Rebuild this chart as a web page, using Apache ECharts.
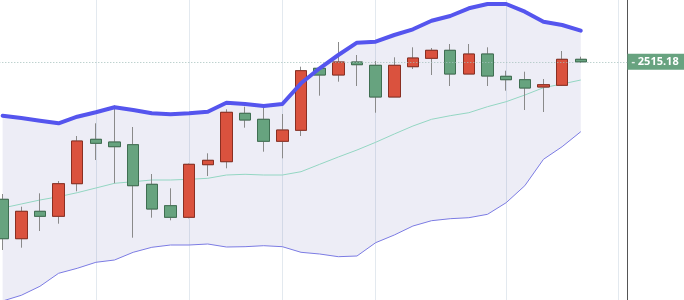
<!DOCTYPE html>
<html>
<head>
<meta charset="utf-8">
<script src="https://cdn.jsdelivr.net/npm/echarts@6/dist/echarts.min.js"></script>
<style>html,body{margin:0;padding:0;background:#fff}#c{width:684px;height:300px}</style>
</head>
<body>
<div id="c"></div>
<script>
// ---- data ----
var categories = ['1','2','3','4','5','6','7','8','9','10','11','12','13','14','15','16','17','18','19','20','21','22','23','24','25','26','27','28','29','30','31','32','33','34'];
var opens  = [2377.7,2338.3,2365.7,2360.7,2393.3,2437.7,2435.0,2432.3,2392.7,2371.3,2359.7,2412.3,2415.3,2463.7,2457.7,2435.7,2446.7,2508.7,2502.0,2515.0,2511.7,2480.0,2510.3,2518.7,2526.7,2503.0,2523.0,2500.7,2497.3,2490.0,2491.7,2517.7];
var closes = [2338.3,2365.7,2360.7,2393.3,2436.0,2433.7,2430.3,2391.3,2368.0,2359.7,2412.7,2416.7,2464.7,2457.0,2435.7,2447.0,2506.3,2502.0,2515.0,2512.3,2480.0,2511.7,2519.0,2526.7,2503.0,2523.0,2501.0,2497.3,2489.0,2492.3,2517.7,2515.18];
var lows   = [2327.0,2329.3,2346.0,2353.3,2385.7,2417.0,2393.7,2339.3,2359.3,2356.7,2358.7,2401.0,2408.7,2449.3,2425.3,2418.7,2441.0,2481.3,2495.3,2491.0,2464.3,2480.0,2508.0,2502.0,2491.0,2503.0,2491.0,2486.3,2467.0,2465.0,2491.0,2514.3];
var highs  = [2383.0,2370.3,2383.7,2396.0,2441.0,2453.7,2471.7,2450.0,2403.0,2388.7,2413.5,2423.7,2467.7,2470.3,2471.7,2463.0,2510.3,2510.5,2535.0,2522.0,2516.0,2519.7,2529.7,2529.0,2533.0,2533.0,2529.7,2506.3,2505.3,2498.0,2526.0,2520.3];
var upperBand = [2461.3,2459.0,2456.3,2453.7,2460.3,2464.7,2469.7,2467.0,2463.7,2462.7,2463.7,2465.3,2474.3,2473.0,2471.0,2473.0,2493.7,2508.7,2522.0,2534.3,2535.3,2542.0,2547.7,2556.3,2561.0,2568.7,2573.0,2573.0,2565.3,2555.3,2552.0,2546.3];
var middleBand = [2369.0,2373.0,2377.0,2380.3,2384.3,2389.0,2393.7,2395.3,2397.0,2397.0,2397.7,2398.7,2402.0,2402.7,2402.0,2402.0,2405.3,2412.7,2420.0,2427.0,2434.7,2443.0,2451.0,2457.7,2461.3,2464.3,2470.3,2475.3,2482.0,2489.3,2493.0,2497.0];
var lowerBand = [2276.0,2281.7,2290.7,2303.7,2308.7,2314.7,2317.0,2324.7,2329.7,2332.0,2332.0,2333.0,2330.0,2330.3,2331.3,2330.3,2324.7,2323.0,2320.3,2321.0,2334.3,2342.0,2351.0,2356.3,2358.3,2359.3,2362.7,2374.3,2391.3,2417.7,2430.3,2445.3];
var gridTickIndices = [5,10,15,20,27,33];

// ---- build ----
var ohlc = opens.map(function(o,i){ return [o, closes[i], lows[i], highs[i]]; });
var bodies = opens.map(function(o,i){ var c = closes[i]; return [o, c, Math.min(o,c), Math.max(o,c)]; });
var bandWidth = upperBand.map(function(u,i){ return +(u - lowerBand[i]).toFixed(2); });
var lastClose = closes[closes.length-1];

var chart = echarts.init(document.getElementById('c'), null, {renderer:'canvas'});
chart.setOption({
  animation: false,
  grid: {left: -6.7, right: 56.6, top: 0, bottom: 0, containLabel: false, outerBoundsMode: 'none'},
  xAxis: {
    type: 'category', data: categories, boundaryGap: true,
    axisLine: {show: false}, axisTick: {show: false}, axisLabel: {show: false},
    splitLine: {show: true, alignWithLabel: true,
      interval: function(idx){ return gridTickIndices.indexOf(idx) >= 0; },
      lineStyle: {color: '#e3e9ef', width: 1}}
  },
  yAxis: {
    type: 'value', position: 'right', min: 2277, max: 2577, scale: true,
    axisLine: {show: true, lineStyle: {color: '#555', width: 1}},
    axisTick: {show: false}, axisLabel: {show: false}, splitLine: {show: false}
  },
  series: [
    {
      type: 'line', data: lowerBand, stack: 'bb', showSymbol: false, silent: true,
      lineStyle: {width: 0, opacity: 0}, z: 1,
      markLine: {
        silent: true, symbol: ['none','none'], animation: false,
        lineStyle: {type: [1,2], color: '#a3bfbb', width: 1},
        label: {
          show: true, position: 'end', distance: 0,
          formatter: function(p){ return '{d|-} ' + p.value.toFixed(2); },
          backgroundColor: '#68a380', color: '#fff',
          fontFamily: '"Open Sans", sans-serif', fontSize: 11, fontWeight: 'bold',
          lineHeight: 14, padding: [1, 8, 1, 4],
          rich: {d: {color: 'rgba(255,255,255,0.8)', fontFamily: '"Open Sans", sans-serif', fontSize: 11, fontWeight: 'bold'}}
        },
        data: [{yAxis: lastClose}]
      }
    },
    {
      type: 'line', data: bandWidth, stack: 'bb', showSymbol: false, silent: true,
      lineStyle: {width: 0, opacity: 0},
      areaStyle: {color: 'rgba(70,70,160,0.14)'}, z: 1
    },
    {
      type: 'line', data: lowerBand, showSymbol: false, silent: true,
      lineStyle: {width: 1, color: '#7b7be3'}, z: 2
    },
    {
      type: 'line', data: middleBand, showSymbol: false, silent: true,
      lineStyle: {width: 1, color: '#93d6c2'}, z: 2
    },
    {
      type: 'candlestick', data: ohlc, barWidth: 12, silent: true, z: 3,
      itemStyle: {color: '#8a8a8a', color0: '#8a8a8a', borderColor: '#8a8a8a', borderColor0: '#8a8a8a', borderWidth: 1}
    },
    {
      type: 'candlestick', data: bodies, barWidth: 12, silent: true, z: 4,
      itemStyle: {color: '#da523e', color0: '#67a37f', borderColor: '#8a2f22', borderColor0: '#3f6f52', borderWidth: 1}
    },
    {
      type: 'line', data: upperBand, showSymbol: false, silent: true,
      lineStyle: {width: 4, color: '#5555ee', join: 'round', cap: 'round'}, z: 5
    }
  ]
});
</script>
</body>
</html>
